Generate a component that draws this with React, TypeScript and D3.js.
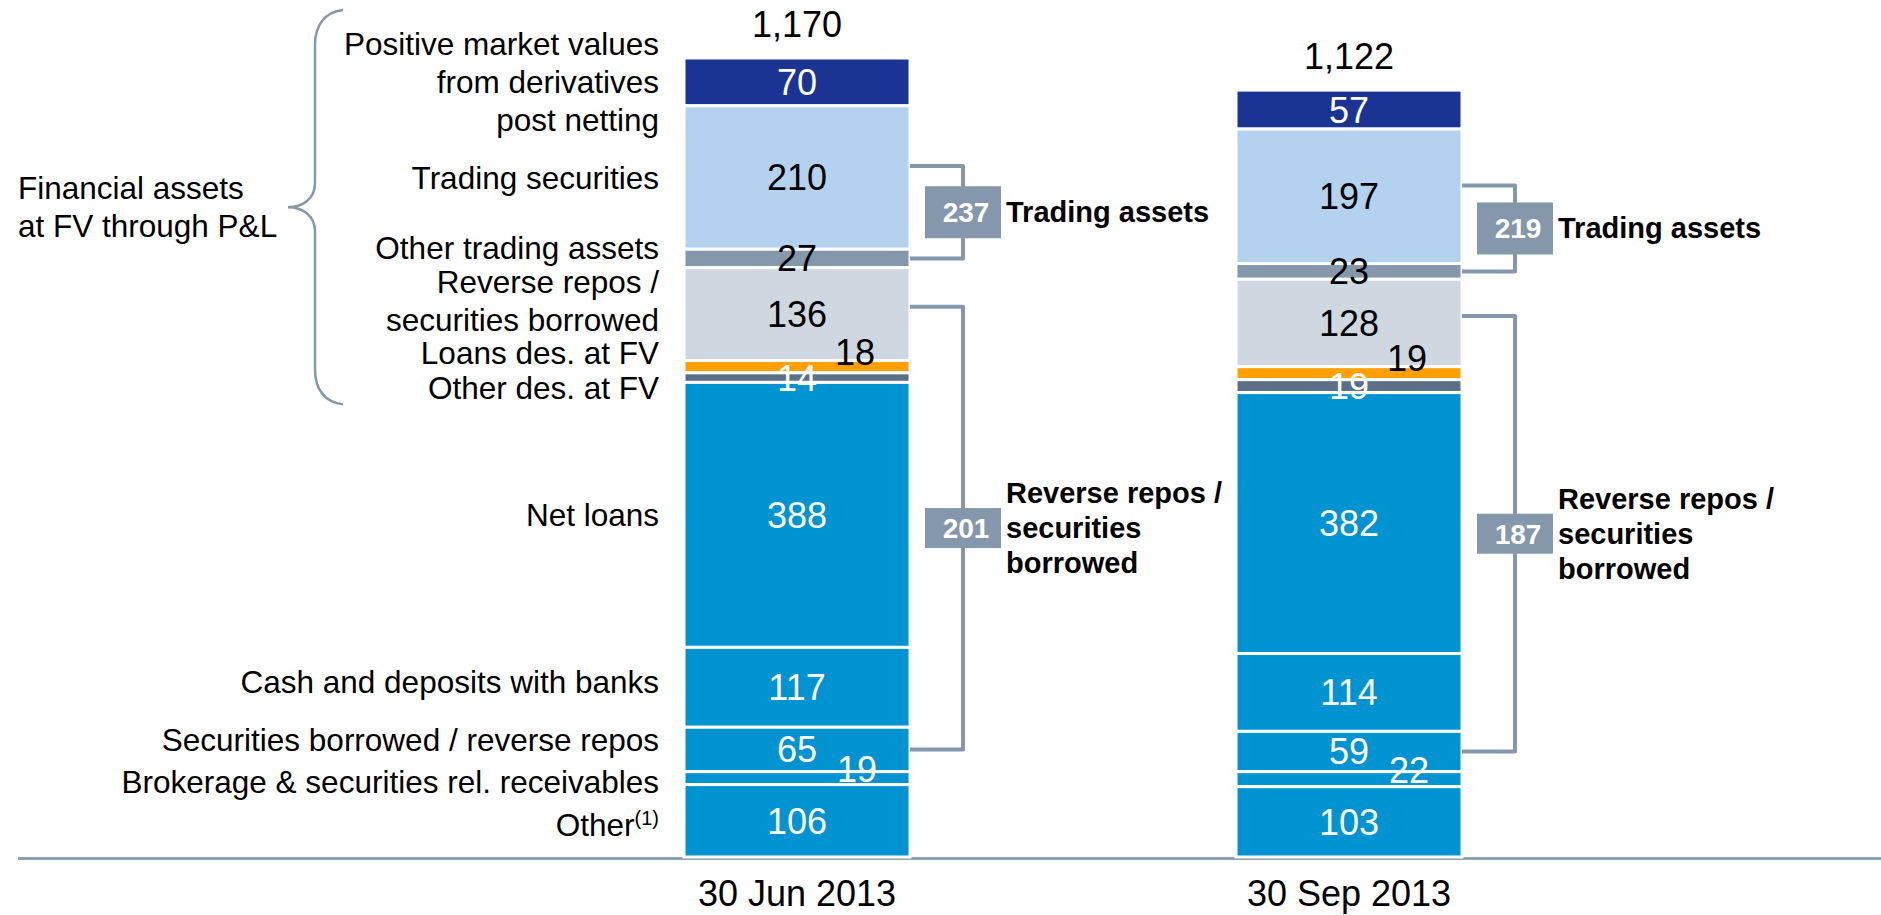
import React, { useEffect, useRef } from 'react';
import * as d3 from 'd3';

// Balance sheet asset breakdown, EUR bn
const dates = ['30 Jun 2013', '30 Sep 2013'];
const categories = [
  'Positive market values|from derivatives|post netting',
  'Trading securities',
  'Other trading assets',
  'Reverse repos /|securities borrowed',
  'Loans des. at FV',
  'Other des. at FV',
  'Net loans',
  'Cash and deposits with banks',
  'Securities borrowed / reverse repos',
  'Brokerage & securities rel. receivables',
  'Other',
];
const jun2013 = [70, 210, 27, 136, 18, 14, 388, 117, 65, 19, 106];
const sep2013 = [57, 197, 23, 128, 19, 19, 382, 114, 59, 22, 103];
const barTotals = ['1,170', '1,122'];
const tradingAssets = [237, 219];
const reverseRepos = [201, 187];

const colors = ['#1b3393', '#b4d2f0', '#8497ab', '#cfd8e0', '#ffa000', '#5b7087', '#0093d1', '#0093d1', '#0093d1', '#0093d1', '#0093d1'];
const valueColors = ['#fff', '#000', '#000', '#000', '#000', '#fff', '#fff', '#fff', '#fff', '#fff', '#fff'];

const App: React.FC = () => {
  const svgRef = useRef<SVGSVGElement>(null);

  useEffect(() => {
    if (!svgRef.current) return;
    const svg = d3.select(svgRef.current);
    svg.selectAll('*').remove();

    const width = 1881;
    const height = 915;
    const font = '"Liberation Sans", Arial, sans-serif';
    const barWidth = 226;
    const gray = '#8497ab';

    const x = d3.scalePoint<string>().domain(dates).range([797, 1349]);
    const y = d3.scaleLinear().domain([0, 1170]).range([857, 58]);

    svg.attr('width', width).attr('height', height).attr('font-family', font);

    const series = [jun2013, sep2013];

    // stacked segments, first category on top
    const stacks = series.map(vals => {
      let top = d3.sum(vals);
      return vals.map((v, i) => {
        const seg = { i, v, top, bottom: top - v };
        top -= v;
        return seg;
      });
    });

    // baseline
    svg.append('line')
      .attr('x1', 18).attr('x2', width)
      .attr('y1', y(0) + 1.5).attr('y2', y(0) + 1.5)
      .attr('stroke', '#8ea1b4').attr('stroke-width', 3);

    stacks.forEach((segs, b) => {
      const cx = x(dates[b]) as number;
      const g = svg.append('g');

      g.selectAll('rect')
        .data(segs)
        .enter()
        .append('rect')
        .attr('x', cx - barWidth / 2)
        .attr('width', barWidth)
        .attr('y', d => y(d.top))
        .attr('height', d => y(d.bottom) - y(d.top))
        .attr('fill', d => colors[d.i])
        .attr('stroke', '#fff')
        .attr('stroke-width', 3);

      // value labels; the two thin ones are pushed right and up
      const nudge: Record<number, [number, number]> = { 4: [58, -15], 9: [60, -9] };
      g.selectAll('text.val')
        .data(segs)
        .enter()
        .append('text')
        .attr('class', 'val')
        .attr('x', d => cx + (nudge[d.i] ? nudge[d.i][0] : 0))
        .attr('y', d => (y(d.top) + y(d.bottom)) / 2 + (nudge[d.i] ? nudge[d.i][1] : 0))
        .attr('dy', '0.36em')
        .attr('text-anchor', 'middle')
        .attr('font-size', 36)
        .attr('fill', d => valueColors[d.i])
        .text(d => d.v);

      // total on top
      svg.append('text')
        .attr('x', cx)
        .attr('y', y(d3.sum(series[b])) - 21)
        .attr('text-anchor', 'middle')
        .attr('font-size', 36)
        .text(barTotals[b]);

      // date label
      svg.append('text')
        .attr('x', cx)
        .attr('y', 906)
        .attr('text-anchor', 'middle')
        .attr('font-size', 36)
        .text(dates[b]);

      // brackets
      const right = cx + barWidth / 2;
      const bx = right + 53;
      const brackets = [
        { a: 1, b: 2, total: tradingAssets[b], label: ['Trading assets'], boxH: 52 },
        { a: 3, b: 8, total: reverseRepos[b], label: ['Reverse repos /', 'securities', 'borrowed'], boxH: 40 },
      ];
      brackets.forEach(br => {
        const sa = segs[br.a];
        const sb = segs[br.b];
        const y1 = y(sa.top) + (y(sa.bottom) - y(sa.top)) * 0.42;
        const y2 = (y(sb.top) + y(sb.bottom)) / 2;
        const p = d3.path();
        p.moveTo(right, y1);
        p.lineTo(bx, y1);
        p.lineTo(bx, y2);
        p.lineTo(right, y2);
        svg.append('path')
          .attr('d', p.toString())
          .attr('fill', 'none')
          .attr('stroke', gray)
          .attr('stroke-width', 4)
          .attr('stroke-linejoin', 'round');
        const my = (y1 + y2) / 2;
        svg.append('rect')
          .attr('x', bx - 38).attr('y', my - br.boxH / 2)
          .attr('width', 76).attr('height', br.boxH)
          .attr('fill', gray);
        svg.append('text')
          .attr('x', bx + 3).attr('y', my + 10)
          .attr('text-anchor', 'middle')
          .attr('font-size', 28).attr('font-weight', 'bold')
          .attr('fill', '#fff')
          .text(br.total);
        const t = svg.append('text')
          .attr('font-size', 29).attr('font-weight', 'bold')
          .attr('x', bx + 43);
        br.label.forEach((line, k) => {
          t.append('tspan')
            .attr('x', bx + 43)
            .attr('y', my + 10 + (k - (br.label.length - 1) / 2) * 35)
            .text(line);
        });
      });
    });

    // category labels left of the first bar
    const labelShift = [0, 0, -10, -13, -14, 10, 0, -5, -9, 4, 4];
    const lineH = 38;
    const labelX = 659;
    stacks[0].forEach((d, i) => {
      const lines = categories[i].split('|');
      const mid = (y(d.top) + y(d.bottom)) / 2 + labelShift[i];
      const t = svg.append('text')
        .attr('text-anchor', 'end')
        .attr('font-size', 31.5);
      lines.forEach((line, k) => {
        const ts = t.append('tspan')
          .attr('x', labelX)
          .attr('y', mid + 11 + (k - (lines.length - 1) / 2) * lineH)
          .text(line);
        if (i === categories.length - 1) {
          ts.append('tspan')
            .attr('font-size', 20)
            .attr('dy', -11)
            .text('(1)');
        }
      });
    });

    // brace around financial assets at FV
    const braceTop = y(d3.sum(jun2013)) - 48;
    const braceBot = y(d3.sum(jun2013.slice(6))) + 22;
    const tipY = (braceTop + braceBot) / 2 + 0;
    const bp = d3.path();
    bp.moveTo(343, braceTop);
    bp.bezierCurveTo(325, braceTop + 2, 315, braceTop + 15, 315, braceTop + 35);
    bp.lineTo(315, tipY - 24);
    bp.bezierCurveTo(315, tipY - 8, 302, tipY, 288, tipY);
    bp.bezierCurveTo(302, tipY, 315, tipY + 8, 315, tipY + 24);
    bp.lineTo(315, braceBot - 35);
    bp.bezierCurveTo(315, braceBot - 15, 325, braceBot - 2, 343, braceBot);
    svg.append('path')
      .attr('d', bp.toString())
      .attr('fill', 'none')
      .attr('stroke', gray)
      .attr('stroke-width', 2.5);

    const fa = svg.append('text').attr('font-size', 31.5);
    ['Financial assets', 'at FV through P&L'].forEach((line, k) => {
      fa.append('tspan')
        .attr('x', 18)
        .attr('y', tipY - 8 + k * 38)
        .text(line);
    });
  }, []);

  return (
    <div style={{ position: 'absolute', left: 0, top: 0, background: '#fff' }}>
      <svg ref={svgRef} style={{ display: 'block' }} />
    </div>
  );
};

export default App;
